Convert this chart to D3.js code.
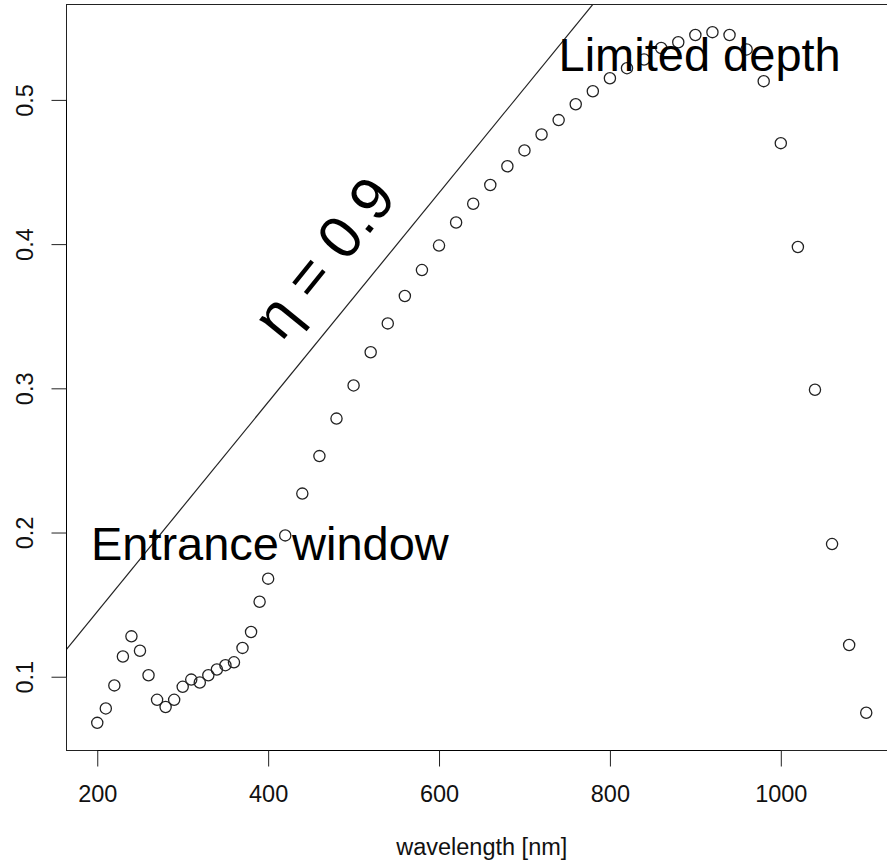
<!DOCTYPE html>
<html>
<head>
<meta charset="utf-8">
<script src="https://cdn.jsdelivr.net/npm/d3@7"></script>
<style>
  html, body { margin: 0; padding: 0; background: #fff; }
  svg { display: block; font-family: "Liberation Sans", Arial, sans-serif; }
</style>
</head>
<body>
<div id="chart"></div>
<script>
// responsivity vs wavelength, R base-graphics look (open circles, box frame)

const wavelength = [
  200, 210, 220, 230, 240, 250, 260, 270, 280, 290,
  300, 310, 320, 330, 340, 350, 360, 370, 380, 390,
  400, 420, 440, 460, 480, 500, 520, 540, 560, 580,
  600, 620, 640, 660, 680, 700, 720, 740, 760, 780,
  800, 820, 840, 860, 880, 900, 920, 940, 960, 980,
  1000, 1020, 1040, 1060, 1080, 1100
];
const response = [
  0.068, 0.078, 0.094, 0.114, 0.128, 0.118, 0.101, 0.084, 0.079, 0.084,
  0.093, 0.098, 0.096, 0.101, 0.105, 0.108, 0.110, 0.120, 0.131, 0.152,
  0.168, 0.198, 0.227, 0.253, 0.279, 0.302, 0.325, 0.345, 0.364, 0.382,
  0.399, 0.415, 0.428, 0.441, 0.454, 0.465, 0.476, 0.486, 0.497, 0.506,
  0.515, 0.522, 0.528, 0.536, 0.540, 0.545, 0.547, 0.545, 0.535, 0.513,
  0.470, 0.398, 0.299, 0.192, 0.122, 0.075
];
const xTicks = [200, 400, 600, 800, 1000];
const yTicks = [0.1, 0.2, 0.3, 0.4, 0.5];
const xLabel = 'wavelength [nm]';

// quantum efficiency reference line: R = eta * lambda / 1239.84
const eta = 0.9;

// text annotations (data coords)
const noteText = ['Entrance window', 'Limited depth'];
const noteX = [402, 905];
const noteY = [0.181, 0.520];

const width = 887, height = 866;
const plot = { left: 66.5, right: 897, top: 4.5, bottom: 750.5 };

const svg = d3.select('#chart').append('svg')
  .attr('width', width)
  .attr('height', height);

// R style 4% padding around the data range
function padded(ext) {
  const p = (ext[1] - ext[0]) * 0.04;
  return [ext[0] - p, ext[1] + p];
}

const x = d3.scaleLinear().domain(padded(d3.extent(wavelength))).range([plot.left, plot.right]);
const y = d3.scaleLinear().domain(padded(d3.extent(response))).range([plot.bottom, plot.top]);

svg.append('defs').append('clipPath').attr('id', 'clip')
  .append('rect')
  .attr('x', plot.left).attr('y', plot.top)
  .attr('width', plot.right - plot.left).attr('height', plot.bottom - plot.top);

// eta line, clipped to plot box
const xd = x.domain();
svg.append('line')
  .attr('clip-path', 'url(#clip)')
  .attr('x1', x(xd[0])).attr('y1', y(eta * xd[0] / 1239.84))
  .attr('x2', x(xd[1])).attr('y2', y(eta * xd[1] / 1239.84))
  .attr('stroke', '#222')
  .attr('stroke-width', 1.2);

// points
svg.append('g')
  .selectAll('circle')
  .data(wavelength)
  .join('circle')
  .attr('cx', d => x(d))
  .attr('cy', (d, i) => y(response[i]))
  .attr('r', 5.6)
  .attr('fill', 'none')
  .attr('stroke', '#222')
  .attr('stroke-width', 1.3);

// frame
svg.append('rect')
  .attr('x', plot.left).attr('y', plot.top)
  .attr('width', plot.right - plot.left).attr('height', plot.bottom - plot.top)
  .attr('fill', 'none')
  .attr('stroke', '#222')
  .attr('stroke-width', 1);

// bottom axis
const xAxis = svg.append('g')
  .attr('transform', `translate(0,${plot.bottom})`)
  .call(d3.axisBottom(x).tickValues(xTicks).tickSize(16).tickPadding(19)
    .tickSizeOuter(0).tickFormat(d3.format('d')));
xAxis.select('.domain')
  .attr('d', `M${x(xTicks[0])},0H${x(xTicks[xTicks.length - 1])}`);
xAxis.selectAll('line').attr('stroke', '#222');
xAxis.selectAll('text')
  .attr('font-size', 23.5)
  .attr('fill', '#111')
  .attr('font-family', '"Liberation Sans", Arial, sans-serif');

// left axis, rotated labels
const yAxis = svg.append('g')
  .attr('transform', `translate(${plot.left},0)`)
  .call(d3.axisLeft(y).tickValues(yTicks).tickSize(15).tickSizeOuter(0).tickFormat(d3.format('.1f')));
yAxis.select('.domain')
  .attr('d', `M0,${y(yTicks[0])}V${y(yTicks[yTicks.length - 1])}`);
yAxis.selectAll('line').attr('stroke', '#222');
yAxis.selectAll('text')
  .attr('font-size', 23.5)
  .attr('fill', '#111')
  .attr('font-family', '"Liberation Sans", Arial, sans-serif')
  .attr('x', null).attr('dy', null)
  .attr('text-anchor', 'middle')
  .attr('transform', 'translate(-34,0) rotate(-90)');

// x axis title
svg.append('text')
  .attr('x', (plot.left + plot.right) / 2)
  .attr('y', 855)
  .attr('text-anchor', 'middle')
  .attr('font-size', 23.5)
  .attr('fill', '#111')
  .text(xLabel);

// annotations
svg.append('g')
  .selectAll('text')
  .data(noteText)
  .join('text')
  .attr('x', (d, i) => x(noteX[i]))
  .attr('y', (d, i) => y(noteY[i]))
  .attr('text-anchor', 'middle')
  .attr('font-size', 47)
  .attr('fill', '#000')
  .text(d => d);

// eta label along the line
const etaPos = [465, 0.391];
svg.append('text')
  .attr('transform', `translate(${x(etaPos[0])},${y(etaPos[1])}) rotate(-51)`)
  .attr('text-anchor', 'middle')
  .attr('dy', '0.35em')
  .attr('font-size', 60)
  .attr('fill', '#000')
  .text('\u03b7 = ' + eta);
</script>
</body>
</html>
